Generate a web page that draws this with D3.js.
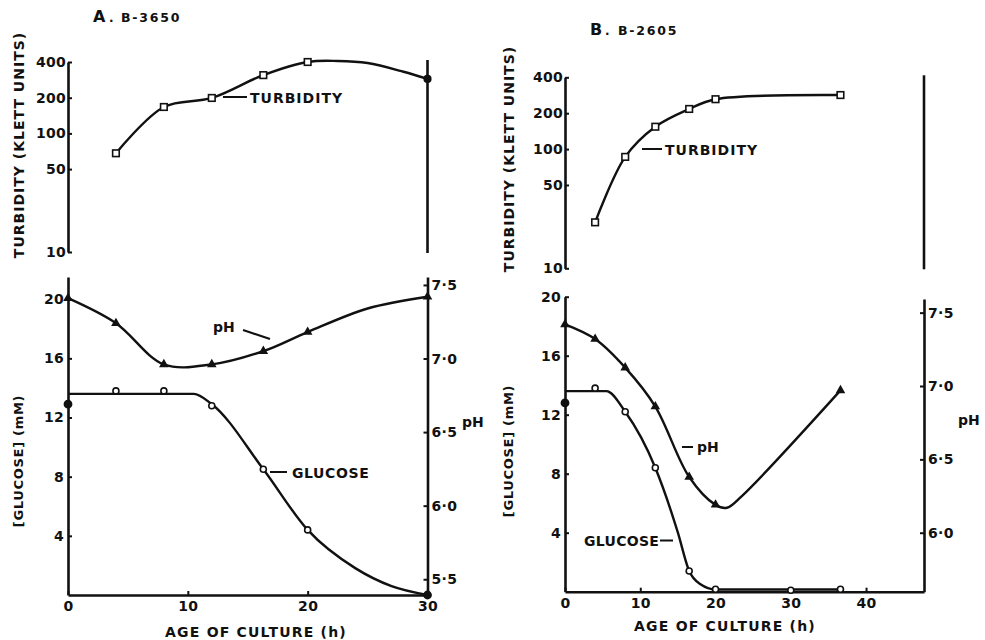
<!DOCTYPE html>
<html><head><meta charset="utf-8">
<script src="https://cdn.jsdelivr.net/npm/d3@7"></script>
<style>
body{margin:0;background:#fff;}
svg{display:block;}
text{font-family:"DejaVu Sans",sans-serif;font-weight:bold;fill:#111;}
</style></head>
<body>
<svg id="c" width="985" height="640"></svg>
<script>
// ---------- DATA ----------
// Panel A : B-3650
const turbA = [[4,68],[8,167],[12,199],[16.3,310],[20,400],[30,288]];
const turbFitA = [[4,68],[8,167],[12,199],[16.3,310],[20,400],[22.5,408],[25,392],[28,331],[30,288]];
const phA   = [[0,7.41],[4,7.24],[8,6.96],[12,6.96],[16.3,7.05],[20,7.18],[30,7.42]];
const phFitA = [[0,7.41],[4,7.24],[8,6.96],[12,6.96],[16.3,7.05],[20,7.18],[25,7.34],[30,7.42]];
const gluA  = [[0,12.9],[4,13.8],[8,13.8],[12,12.8],[16.3,8.5],[20,4.4],[30,0]];
const gluFitA = [[0,13.6],[10.5,13.6],[12,12.9],[16.3,8.5],[20,4.4],[24,1.8],[27,0.6],[30,0]];
// Panel B : B-2605
const turbB = [[4,24.3],[8,86],[12,154],[16.5,217],[20,262],[36.6,284]];
const phB   = [[0,7.42],[4,7.32],[8,7.125],[12,6.86],[16.5,6.38],[20,6.19],[36.6,6.97]];
const phFitB = [[0,7.42],[4,7.32],[8,7.125],[12,6.86],[16.5,6.38],[20,6.19],[21.5,6.17],[23.5,6.25],[36.6,6.97]];
const gluB  = [[0,12.8],[4,13.8],[8,12.2],[12,8.4],[16.5,1.4],[20,0.17],[30,0.1],[36.6,0.17]];
const gluFitB = [[0,13.6],[5.5,13.6],[8,12.2],[12,8.4],[14,5.6],[15,4.0],[16.5,1.4],[18,0.5],[20,0.15],[36.6,0.15]];
// tick labels
const turbTicks = [10,50,100,200,400];
const gluTicks = [4,8,12,16,20];
const phTicksA = [5.5,6.0,6.5,7.0,7.5];
const phTicksB = [6.0,6.5,7.0,7.5];
const xTicksA = [0,10,20,30];
const xTicksB = [0,10,20,30,40];

// ---------- DRAWING ----------
const svg = d3.select("#c");
const phFmt = d => d.toFixed(1).replace(".", "\u00b7");

function panel(o){
  const g = svg.append("g");
  const xs = d3.scaleLinear().domain(o.xDom).range(o.xRange);
  const yT = d3.scaleLog().domain([10,400]).range(o.tRange);
  const yG = d3.scaleLinear().domain(o.gDom).range(o.gRange);
  const yP = d3.scaleLinear().domain(o.pDom).range(o.pRange);
  const sw = 2.4;

  function styleAxis(a){
    a.select(".domain").attr("stroke","#111").attr("stroke-width",2.6);
    a.selectAll(".tick line").attr("stroke","#111").attr("stroke-width",2);
    a.selectAll(".tick text").style("font-size","14px").style("letter-spacing","0.3px")
      .attr("font-family",null).attr("fill","#111");
  }
  // top turbidity axis
  g.append("g").attr("transform",`translate(${o.xRange[0]},0)`)
    .call(d3.axisLeft(yT).tickValues(turbTicks).tickFormat(d3.format("d")).tickSize(-4).tickSizeOuter(0).tickPadding(2))
    .call(styleAxis);
  // right plain line of the top panel
  g.append("line").attr("x1",o.xRange[1]).attr("x2",o.xRange[1])
    .attr("y1",o.tRange[1]-2).attr("y2",o.tRange[0]+1).attr("stroke","#111").attr("stroke-width",2.6);
  // bottom: glucose left
  g.append("g").attr("transform",`translate(${o.xRange[0]},0)`)
    .call(d3.axisLeft(yG).tickValues(gluTicks).tickSize(-4).tickSizeOuter(0).tickPadding(4))
    .call(styleAxis);
  // pH right
  g.append("g").attr("transform",`translate(${o.xRange[1]},0)`)
    .call(d3.axisRight(yP).tickValues(o.phTicks).tickFormat(phFmt).tickSize(-4).tickSizeOuter(0).tickPadding(4))
    .call(styleAxis);
  // x axis
  g.append("g").attr("transform",`translate(0,${o.gRange[0]})`)
    .call(d3.axisBottom(xs).tickValues(o.xTicks).tickSize(-4).tickSizeOuter(0).tickPadding(6))
    .call(styleAxis);

  const line = (sx,sy,curve) => d3.line().x(d=>sx(d[0])).y(d=>sy(d[1])).curve(curve);
  const cr = d3.curveCatmullRom.alpha(0.5);
  g.append("path").attr("d",line(xs,yT,cr)(o.turbFit)).attr("fill","none").attr("stroke","#111").attr("stroke-width",sw);
  g.append("path").attr("d",line(xs,yP,cr)(o.phFit)).attr("fill","none").attr("stroke","#111").attr("stroke-width",sw);
  g.append("path").attr("d",line(xs,yG,d3.curveMonotoneX)(o.gluFit)).attr("fill","none").attr("stroke","#111").attr("stroke-width",sw);

  const edge = d => d[0]===o.xDom[0] || d[0]===30 && o.xDom[1]===30;
  // squares
  g.selectAll(null).data(o.turb).join("rect")
    .attr("x",d=>xs(d[0])-3.3).attr("y",d=>yT(d[1])-3.3).attr("width",6.6).attr("height",6.6)
    .attr("rx",d=>edge(d)?3.3:0)
    .attr("fill",d=>edge(d)?"#111":"#fff").attr("stroke","#111").attr("stroke-width",1.6);
  // circles
  g.selectAll(null).data(o.glu).join("circle")
    .attr("cx",d=>xs(d[0])).attr("cy",d=>yG(d[1])).attr("r",d=>edge(d)?3.6:3)
    .attr("fill",d=>edge(d)?"#111":"#fff").attr("stroke","#111").attr("stroke-width",1.6);
  // triangles
  const tri = d3.symbol().type(d3.symbolTriangle).size(40);
  g.selectAll(null).data(o.ph).join("path")
    .attr("d",tri).attr("transform",d=>`translate(${xs(d[0])},${yP(d[1])})`).attr("fill","#111");

  return {g,xs,yT,yG,yP};
}

const A = panel({xDom:[0,30],xRange:[68,427.5],tRange:[252,62],gDom:[0,21.5],gRange:[595,277],
  pDom:[5.393,7.554],pRange:[595,277],phTicks:phTicksA,xTicks:xTicksA,
  turb:turbA,turbFit:turbFitA,ph:phA,phFit:phFitA,glu:gluA,gluFit:gluFitA});
const B = panel({xDom:[0,47.7],xRange:[565,924],tRange:[268.3,77.3],gDom:[0,20],gRange:[591.7,296.7],
  pDom:[5.598,7.593],pRange:[591.7,299],phTicks:phTicksB,xTicks:xTicksB,
  turb:turbB,turbFit:turbB,ph:phB,phFit:phFitB,glu:gluB,gluFit:gluFitB});

// ---------- TEXT ----------
function txt(x,y,s,size,opts={}){
  const t = svg.append("text").attr("x",x).attr("y",y).text(s).style("font-size",size+"px")
    .style("letter-spacing",(opts.ls!=null?opts.ls:1)+"px");
  if(opts.anchor) t.attr("text-anchor",opts.anchor);
  if(opts.rot) t.attr("transform",`rotate(-90,${x},${y})`);
  return t;
}
function seg(x1,y1,x2,y2){svg.append("line").attr("x1",x1).attr("y1",y1).attr("x2",x2).attr("y2",y2).attr("stroke","#111").attr("stroke-width",2);}

// panel titles
txt(93,22,"A",16,{ls:0}); txt(109,22,".",12,{ls:0}); txt(121,22,"B-3650",12.5,{ls:1.8});
txt(590,35,"B",16,{ls:0}); txt(605,35,".",12,{ls:0}); txt(618,35,"B-2605",12.5,{ls:1.8});

// y-axis titles
txt(24,145,"TURBIDITY (KLETT UNITS)",14,{anchor:"middle",rot:true,ls:1});
txt(23,461,"[GLUCOSE] (mM)",13,{anchor:"middle",rot:true,ls:0.7});
txt(514,159,"TURBIDITY (KLETT UNITS)",14,{anchor:"middle",rot:true,ls:1});
txt(513,451,"[GLUCOSE] (mM)",13,{anchor:"middle",rot:true,ls:0.7});
txt(462,427,"pH",14,{ls:0});
txt(958,425,"pH",14,{ls:0});

// x-axis titles
txt(256,637,"AGE OF CULTURE (h)",14,{anchor:"middle",ls:1.2});
txt(725,631,"AGE OF CULTURE (h)",14,{anchor:"middle",ls:1.2});

// inline series labels
seg(223,97,247,97); txt(250,103,"TURBIDITY",14,{ls:1});
txt(213,332,"pH",14,{ls:0}); seg(243,330,270,339);
seg(270,472,287,472); txt(292,478,"GLUCOSE",14,{ls:0.6});
seg(642,149,662,149); txt(665,155,"TURBIDITY",14,{ls:1});
seg(682,447,693,447); txt(697,452,"pH",14,{ls:0});
txt(584,546,"GLUCOSE",14,{ls:0.3}); seg(660,540.5,673,540.5);
</script>
</body></html>
